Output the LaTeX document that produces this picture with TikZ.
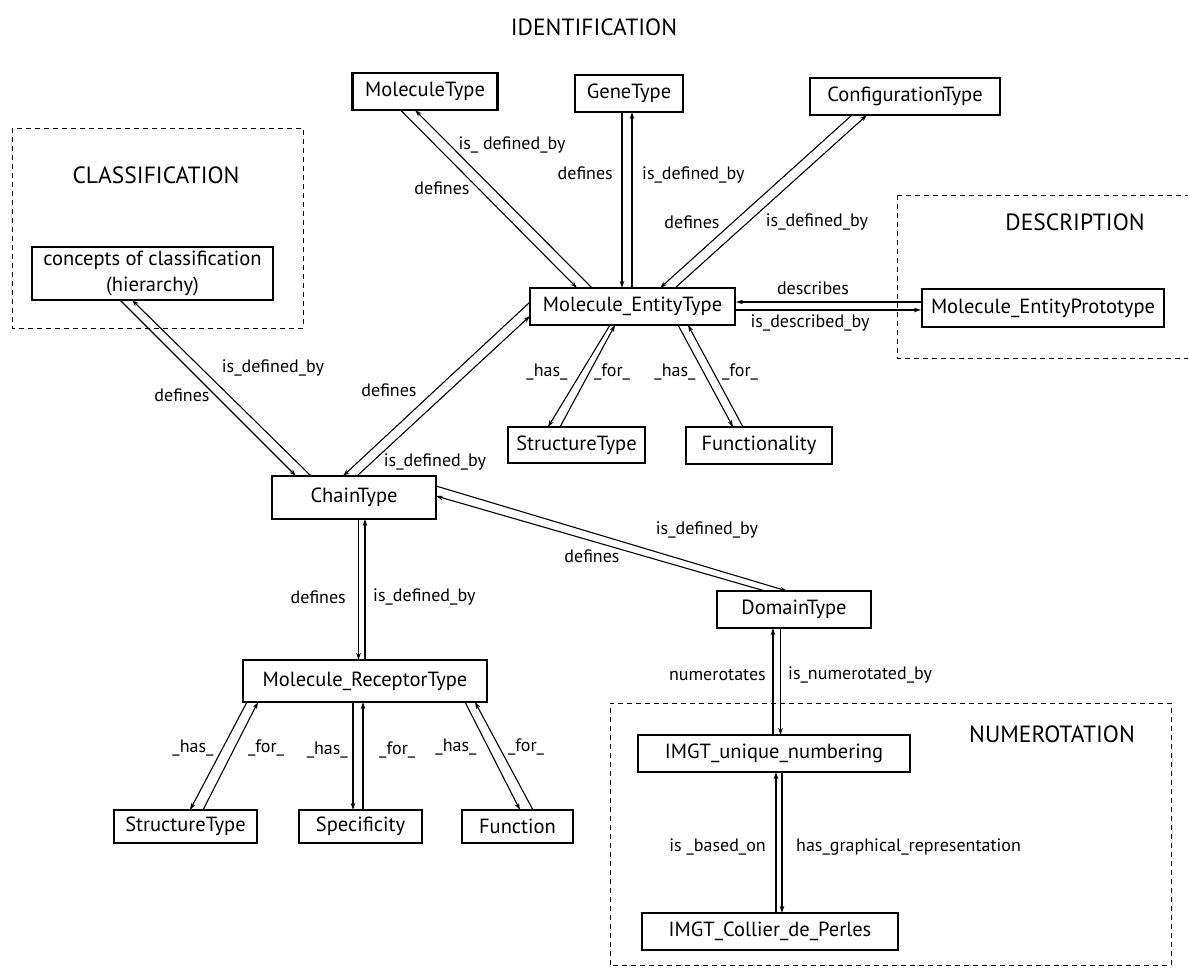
\documentclass[tikz,border=0pt]{standalone}
\usepackage{fontspec}
\setmainfont{PT Sans}
\usetikzlibrary{arrows.meta,calc}
\begin{document}
\begin{tikzpicture}[x=1pt,y=-1pt,
 box/.style={draw,line width=2.2pt,inner sep=0pt,font=\fontsize{20.5}{26}\selectfont,align=center},
 lbl/.style={inner sep=0pt,font=\fontsize{18}{20}\selectfont},
 ttl/.style={inner sep=0pt,font=\fontsize{23.5}{26}\selectfont},
 con/.style={line width=1.1pt,-{Stealth[length=7pt,width=4.5pt]}},
 zone/.style={draw,line width=1pt,dash pattern=on 5pt off 4pt}]
\useasboundingbox (0,0) rectangle (1189,969);
\fill[white] (0,0) rectangle (1189,969);

% zones
\draw[zone] (12,128) rectangle (303,328);
\draw[zone] (897,195) -- (1188,195);
\draw[zone] (897,195) -- (897,358) -- (1188,358);
\draw[zone] (610,965) -- (610,703) -- (1171,703) -- (1171,965) -- cycle;

% titles
\node[ttl] (tid) at (594,27) {IDENTIFICATION};
\node[ttl] (tcl) at (156,175) {CLASSIFICATION};
\node[ttl] (tde) at (1075,222) {DESCRIPTION};
\node[ttl] (tnu) at (1052,734) {NUMEROTATION};

% nodes
\node[box,minimum width=145pt,minimum height=37pt] (mt) at (425,91.5) {MoleculeType};
\node[box,minimum width=108pt,minimum height=37pt] (gt) at (629,93.5) {GeneType};
\node[box,minimum width=190pt,minimum height=37pt] (ct) at (905,96.5) {ConfigurationType};
\node[box,minimum width=205pt,minimum height=37pt] (ent) at (632.5,306.5) {Molecule\_EntityType};
\node[box,minimum width=242pt,minimum height=38pt] (proto) at (1043,308) {Molecule\_EntityPrototype};
\node[box,minimum width=241pt,minimum height=53pt] (conc) at (152.5,273.5) {concepts of classification\\(hierarchy)};
\node[box,minimum width=137pt,minimum height=36pt] (st1) at (576.5,445) {StructureType};
\node[box,minimum width=146pt,minimum height=37pt] (fu1) at (759,445.5) {Functionality};
\node[box,minimum width=164pt,minimum height=43pt] (chain) at (354,497.5) {ChainType};
\node[box,minimum width=154pt,minimum height=37pt] (dom) at (794,609.5) {DomainType};
\node[box,minimum width=244pt,minimum height=42pt] (rec) at (365,681) {Molecule\_ReceptorType};
\node[box,minimum width=143pt,minimum height=33pt] (st2) at (185.5,826.5) {StructureType};
\node[box,minimum width=123pt,minimum height=33pt] (spec) at (360.5,826.5) {Specificity};
\node[box,minimum width=111pt,minimum height=33pt] (func) at (517.5,826.5) {Function};
\node[box,minimum width=272pt,minimum height=37pt] (imu) at (774,753.5) {IMGT\_unique\_numbering};
\node[box,minimum width=256pt,minimum height=37pt] (icp) at (770,931.5) {IMGT\_Collier\_de\_Perles};

% connectors: MoleculeType
\draw[con] ($(mt.center)+(-24,19)$) -- ($(ent.center)+(-55.5,-18.5)$);
\draw[con] ($(ent.center)+(-40.5,-18.5)$) -- ($(mt.center)+(-10,18.5)$);
% GeneType
\draw[con] ($(gt.center)+(-7,18.5)$) -- ($(ent.center)+(-10.5,-18.5)$);
\draw[con] ($(ent.center)+(-0.5,-18.5)$) -- ($(gt.center)+(3,18.5)$);
% ConfigurationType
\draw[con] ($(ct.center)+(-53,18.5)$) -- ($(ent.center)+(27.5,-18.5)$);
\draw[con] ($(ent.center)+(42.5,-18.5)$) -- ($(ct.center)+(-38,18.5)$);
% Prototype
\draw[con] ($(proto.west)+(0,-6)$) -- ($(ent.east)+(0,-4.5)$);
\draw[con] ($(ent.east)+(0,3.5)$) -- ($(proto.west)+(0,2)$);
% concepts - chain
\draw[con] ($(conc.center)+(-32.5,26.5)$) -- ($(chain.center)+(-58,-21.5)$);
\draw[con] ($(chain.center)+(-43,-21.5)$) -- ($(conc.center)+(-20.5,26.5)$);
% entity - chain
\draw[con] ($(ent.center)+(-102.5,-4.5)$) -- ($(chain.center)+(-11,-21.5)$);
\draw[con] ($(chain.center)+(3,-21.5)$) -- ($(ent.center)+(-102.5,9.5)$);
% chain - domain
\draw[con] ($(chain.center)+(82,-11.5)$) -- ($(dom.center)+(-7,-18.5)$);
\draw[con] ($(dom.center)+(-29,-18.5)$) -- ($(chain.center)+(82,-1.5)$);
% chain - receptor
\draw[con] ($(chain.center)+(4.5,21.5)$) -- ($(rec.center)+(-6.5,-21)$);
\draw[con] ($(rec.center)+(0,-21)$) -- ($(chain.center)+(11,21.5)$);
% entity children
\draw[con] ($(ent.center)+(-22.5,18.5)$) -- ($(st1.center)+(-28.5,-18)$);
\draw[con] ($(st1.center)+(-16.5,-18)$) -- ($(ent.center)+(-17.5,18.5)$);
\draw[con] ($(ent.center)+(45.5,18.5)$) -- ($(fu1.center)+(-26,-18.5)$);
\draw[con] ($(fu1.center)+(-16,-18.5)$) -- ($(ent.center)+(55.5,18.5)$);
% receptor children
\draw[con] ($(rec.center)+(-118,21)$) -- ($(st2.center)+(4.5,-16.5)$);
\draw[con] ($(st2.center)+(17.5,-16.5)$) -- ($(rec.center)+(-107,21)$);
\draw[con] ($(rec.center)+(-12,21)$) -- ($(spec.center)+(-7.5,-16.5)$);
\draw[con] ($(spec.center)+(2.5,-16.5)$) -- ($(rec.center)+(-2,21)$);
\draw[con] ($(rec.center)+(100,21)$) -- ($(func.center)+(2.5,-16.5)$);
\draw[con] ($(func.center)+(15.5,-16.5)$) -- ($(rec.center)+(110,21)$);
% domain - imu
\draw[con] ($(imu.center)+(-1,-18.5)$) -- ($(dom.center)+(-21,18.5)$);
\draw[con] ($(dom.center)+(-13.5,18.5)$) -- ($(imu.center)+(6.5,-18.5)$);
% imu - icp
\draw[con] ($(icp.center)+(6,-18.5)$) -- ($(imu.center)+(2,18.5)$);
\draw[con] ($(imu.center)+(8,18.5)$) -- ($(icp.center)+(12,-18.5)$);

% labels
\node[lbl] (l1) at (512,145) {is\_ defined\_by};
\node[lbl] (l2) at (442,188) {defines};
\node[lbl,anchor=east] (l3) at (613,173) {defines};
\node[lbl,anchor=west] (l4) at (642,175) {is\_defined\_by};
\node[lbl] (l5) at (692,222) {defines};
\node[lbl] (l6) at (817,222) {is\_defined\_by};
\node[lbl] (l7) at (813,288) {describes};
\node[lbl] (l8) at (810,323) {is\_described\_by};
\node[lbl] (l9) at (273,368) {is\_defined\_by};
\node[lbl] (l10) at (182,395) {defines};
\node[lbl] (l11) at (389,390) {defines};
\node[lbl] (l12) at (435,462) {is\_defined\_by};
\node[lbl] (l13) at (707,530) {is\_defined\_by};
\node[lbl] (l14) at (592,556) {defines};
\node[lbl,anchor=east] (l15) at (346,597) {defines};
\node[lbl,anchor=west] (l16) at (373,597) {is\_defined\_by};
\node[lbl] (l17) at (547,372) {\_has\_};
\node[lbl] (l18) at (612,372) {\_for\_};
\node[lbl] (l19) at (675,372) {\_has\_};
\node[lbl] (l20) at (740,372) {\_for\_};
\node[lbl] (l21) at (193,748) {\_has\_};
\node[lbl] (l22) at (266,748) {\_for\_};
\node[lbl,anchor=east] (l23) at (348,750) {\_has\_};
\node[lbl,anchor=west] (l24) at (379,750) {\_for\_};
\node[lbl] (l25) at (456,747) {\_has\_};
\node[lbl] (l26) at (526,747) {\_for\_};
\node[lbl,anchor=east] (l27) at (766,675) {numerotates};
\node[lbl,anchor=west] (l28) at (788,675) {is\_numerotated\_by};
\node[lbl,anchor=east] (l29) at (766,847) {is \_based\_on};
\node[lbl,anchor=west] (l30) at (796,847) {has\_graphical\_representation};
\end{tikzpicture}
\end{document}
